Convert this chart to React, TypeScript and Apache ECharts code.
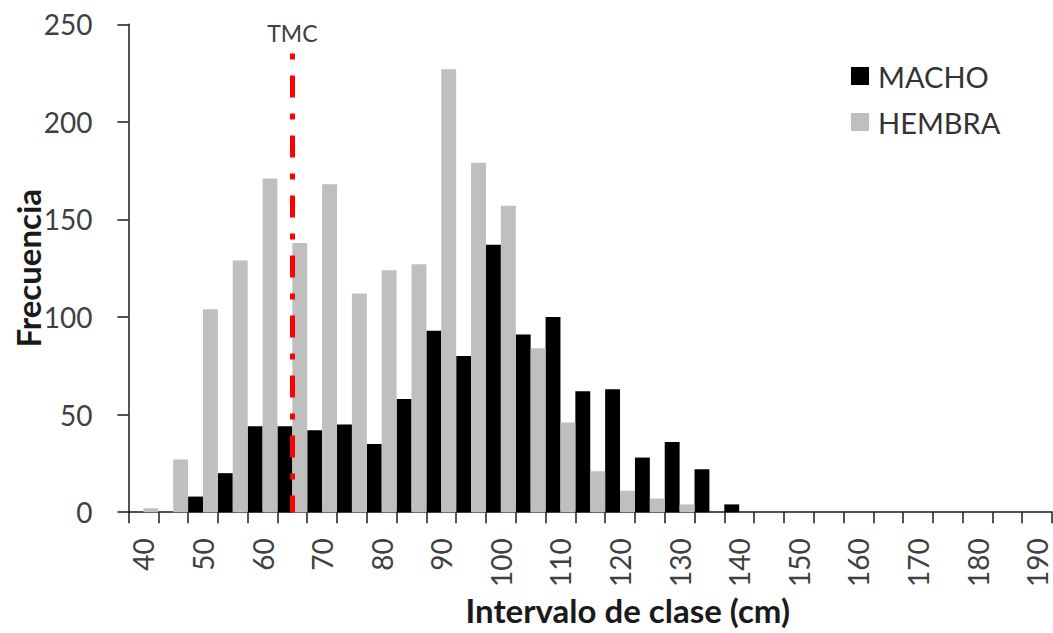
import React, { useEffect, useRef } from "react";
import * as echarts from "echarts";

const categories = ["40","45","50","55","60","65","70","75","80","85","90","95","100","105","110","115","120","125","130","135","140","145","150","155","160","165","170","175","180","185","190"];
const macho = [0,0,8,20,44,44,42,45,35,58,93,80,137,91,100,62,63,28,36,22,4,0,0,0,0,0,0,0,0,0,0];
const hembra = [2,27,104,129,171,138,168,112,124,127,227,179,157,84,46,21,11,7,4,0,0,0,0,0,0,0,0,0,0,0,0];
const yTicks = { min: 0, max: 250, interval: 50 };
const tmcCategory = "65";
const tmcTop = 235;

const FONT = "Lato, 'Open Sans', sans-serif";

export default function App() {
  const ref = useRef<HTMLDivElement>(null);
  useEffect(() => {
    if (!ref.current) return;
    const chart = echarts.init(ref.current, undefined, { renderer: "svg" });
    chart.setOption({
      animation: false,
      backgroundColor: "#ffffff",
      textStyle: { fontFamily: FONT },
      grid: { left: 128.5, right: 1, top: 24.3, bottom: 120.8, containLabel: false, outerBoundsMode: "none" },
      legend: {
        orient: "vertical",
        left: 846,
        top: 56,
        itemWidth: 18,
        itemHeight: 18,
        itemGap: 16,
        icon: "rect",
        data: ["MACHO", "HEMBRA"],
        textStyle: { fontSize: 29, color: "#333333", fontFamily: FONT, lineHeight: 30, padding: [0, 0, 0, 4] },
      },
      xAxis: {
        type: "category",
        data: categories,
        boundaryGap: true,
        name: "Intervalo de clase (cm)",
        nameLocation: "middle",
        nameGap: 81,
        nameMoveOverlap: false,
        nameTextStyle: { fontSize: 33, fontWeight: "bold", color: "#1a1a1a", fontFamily: FONT, padding: [0, 0, 0, 75] },
        axisLine: { lineStyle: { color: "#1a1a1a", width: 1.5 } },
        axisTick: { show: true, interval: 0, length: 11, inside: false, lineStyle: { color: "#1a1a1a", width: 1.5 } },
        axisLabel: { interval: 1, rotate: 90, margin: 26, fontSize: 28, color: "#404040", fontFamily: FONT },
        splitLine: { show: false },
      },
      yAxis: {
        type: "value",
        min: yTicks.min,
        max: yTicks.max,
        interval: yTicks.interval,
        name: "Frecuencia",
        nameLocation: "middle",
        nameGap: 84,
        nameMoveOverlap: false,
        nameTextStyle: { fontSize: 33, fontWeight: "bold", color: "#1a1a1a", fontFamily: FONT },
        axisLine: { show: true, lineStyle: { color: "#1a1a1a", width: 1.5 } },
        axisTick: { show: true, length: 11, lineStyle: { color: "#1a1a1a", width: 1.5 } },
        axisLabel: { margin: 36, fontSize: 28, color: "#404040", fontFamily: FONT },
        splitLine: { show: false },
      },
      series: [
        {
          name: "MACHO",
          type: "bar",
          data: macho,
          barGap: "0%",
          barCategoryGap: "0%",
          itemStyle: { color: "#000000" },
        },
        {
          name: "HEMBRA",
          type: "bar",
          data: hembra,
          barGap: "0%",
          barCategoryGap: "0%",
          itemStyle: { color: "#BFBFBF" },
        },
        {
          name: "TMC",
          type: "line",
          data: [],
          z: 10,
          markLine: {
            silent: true,
            symbol: ["none", "none"],
            lineStyle: { color: "#FF0000", width: 5, type: [6, 16, 22, 16], cap: "butt" },
            label: {
              show: true,
              position: "start",
              formatter: "TMC",
              distance: 9,
              fontSize: 23,
              color: "#404040",
              fontFamily: FONT,
            },
            data: [[{ coord: [tmcCategory, tmcTop] }, { coord: [tmcCategory, 0] }]],
          },
        },
      ],
    });
    return () => chart.dispose();
  }, []);
  return (
    <div
      ref={ref}
      style={{ position: "absolute", left: 0, top: 0, width: 1053, height: 633, background: "#fff" }}
    />
  );
}
